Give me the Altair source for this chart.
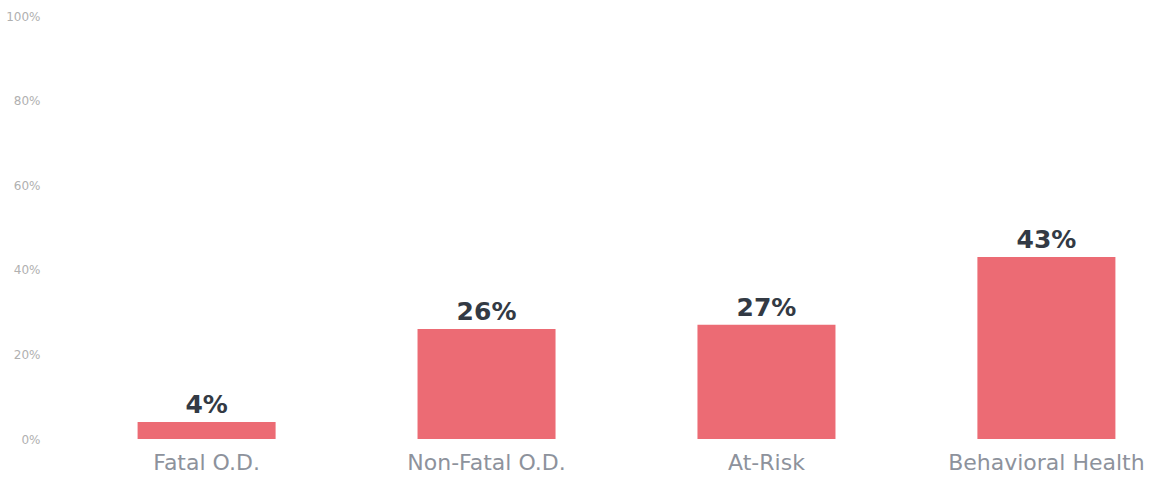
import altair as alt
import pandas as pd

categories = ["Fatal O.D.", "Non-Fatal O.D.", "At-Risk", "Behavioral Health"]
values = [4, 26, 27, 43]
value_labels = ["4%", "26%", "27%", "43%"]
y_ticks = [0, 20, 40, 60, 80, 100]

df = pd.DataFrame({"cat": categories, "val": values, "lab": value_labels})

x = alt.X("cat:N", sort=categories, title=None,
          scale=alt.Scale(paddingInner=0.507, paddingOuter=0.17),
          axis=alt.Axis(labelAngle=0, domain=False, ticks=False, labelPadding=13,
                        labelFontSize=22, labelColor="#8d929c", labelFont="DejaVu Sans",
                        labelBaseline="top", labelLimit=400, labelOverlap=False))
y = alt.Y("val:Q", title=None, scale=alt.Scale(domain=[0, 100], nice=False),
          axis=alt.Axis(values=y_ticks, grid=False, domain=False, ticks=False,
                        labelPadding=50, labelFontSize=12, labelColor="#b0b0b0",
                        labelFont="DejaVu Sans", labelExpr="datum.value + '%'"))

bars = alt.Chart(df).mark_bar(color="#ec6b74").encode(x=x, y=y)
text = alt.Chart(df).mark_text(baseline="bottom", dy=-4, fontSize=25, fontWeight="bold",
                               color="#333a44", font="DejaVu Sans").encode(
    x=alt.X("cat:N", sort=categories), y="val:Q", text="lab:N")

chart = (bars + text).properties(
    width=1073, height=423,
    autosize=alt.AutoSizeParams(type="none"),
    padding={"left": 90, "top": 16, "right": 2, "bottom": 43},
    background="white",
).configure_view(stroke=None)

chart.save("out.html", embed_options={"renderer": "svg", "actions": False})
